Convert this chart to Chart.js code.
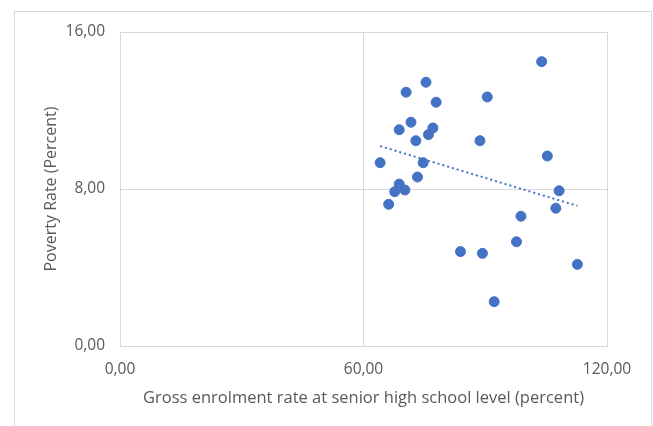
<!DOCTYPE html>
<html>
<head>
<meta charset="utf-8">
<script src="https://cdn.jsdelivr.net/npm/chart.js@4/dist/chart.umd.min.js"></script>
<style>
  body { margin: 0; background: #fff; }
  #wrap { position: relative; width: 653px; height: 426px; overflow: hidden; }
  #frame { position: absolute; left: 14px; top: 11px; width: 636px; height: 430px; border: 1px solid #d9d9d9; }
  #chart { position: absolute; left: 0; top: 0; }
</style>
</head>
<body>
<div id="wrap">
  <div id="frame"></div>
  <canvas id="chart" width="653" height="426"></canvas>
</div>
<script>
const enrolment = [103.9, 75.4, 70.5, 77.9, 90.5, 71.7, 68.8, 77.1, 76.0, 72.9, 88.7, 105.3, 64.1, 74.7,
                   73.3, 68.8, 67.7, 70.2, 66.2, 108.2, 107.4, 98.8, 97.7, 83.9, 89.3, 112.7, 92.2];
const poverty = [14.49, 13.44, 12.93, 12.42, 12.69, 11.40, 11.02, 11.11, 10.77, 10.46, 10.46, 9.68, 9.34, 9.34,
                 8.61, 8.25, 7.86, 7.95, 7.22, 7.91, 7.02, 6.61, 5.31, 4.81, 4.72, 4.16, 2.26];
const xTicks = [0, 60, 120];
const yTicks = [0, 8, 16];

const points = enrolment.map((x, i) => ({x, y: poverty[i]}));

// linear trendline (least squares), drawn from min x to max x
function trend() {
    const n = points.length;
    const mx = enrolment.reduce((a, b) => a + b, 0) / n;
    const my = poverty.reduce((a, b) => a + b, 0) / n;
    let sxy = 0, sxx = 0;
    points.forEach(p => { sxy += (p.x - mx) * (p.y - my); sxx += (p.x - mx) ** 2; });
    const b = sxy / sxx, a = my - b * mx;
    const x0 = Math.min(...enrolment), x1 = Math.max(...enrolment);
    return [{x: x0, y: a + b * x0}, {x: x1, y: a + b * x1}];
}

const fmt = v => v.toFixed(2).replace('.', ',');
const FONT = '"Open Sans", sans-serif';
const GREY = '#595959';
const GRID = '#d9d9d9';

new Chart(document.getElementById('chart'), {
    type: 'scatter',
    data: {
        datasets: [{
            data: points,
            backgroundColor: '#4472c4',
            borderColor: '#4472c4',
            pointRadius: 5,
            pointHoverRadius: 5
        }, {
            type: 'line',
            data: trend(),
            borderColor: '#4472c4',
            borderWidth: 2,
            borderDash: [2, 3],
            pointRadius: 0,
            fill: false
        }]
    },
    options: {
        responsive: false,
        animation: false,
        layout: { padding: { left: 38, top: 32, right: 46, bottom: 14 } },
        plugins: { legend: { display: false }, tooltip: { enabled: false } },
        scales: {
            x: {
                type: 'linear',
                min: 0, max: 120,
                afterBuildTicks: s => { s.ticks = xTicks.map(v => ({value: v})); },
                afterFit: s => { s.height = 66; },
                grid: { color: GRID, drawTicks: false },
                border: { color: GRID },
                ticks: { color: GREY, padding: 14, font: { family: FONT, size: 15.5 }, callback: fmt },
                title: { display: true, text: 'Gross enrolment rate at senior high school level (percent)',
                         color: GREY, font: { family: FONT, size: 16.5 } }
            },
            y: {
                type: 'linear',
                min: 0, max: 16,
                afterBuildTicks: s => { s.ticks = yTicks.map(v => ({value: v})); },
                afterFit: s => { s.width = 82; },
                grid: { color: GRID, drawTicks: false },
                border: { color: GRID },
                ticks: { color: GREY, padding: 15, font: { family: FONT, size: 15.5 }, callback: fmt },
                title: { display: true, text: 'Poverty Rate (Percent)',
                         color: GREY, font: { family: FONT, size: 16 } }
            }
        }
    }
});
</script>
</body>
</html>
